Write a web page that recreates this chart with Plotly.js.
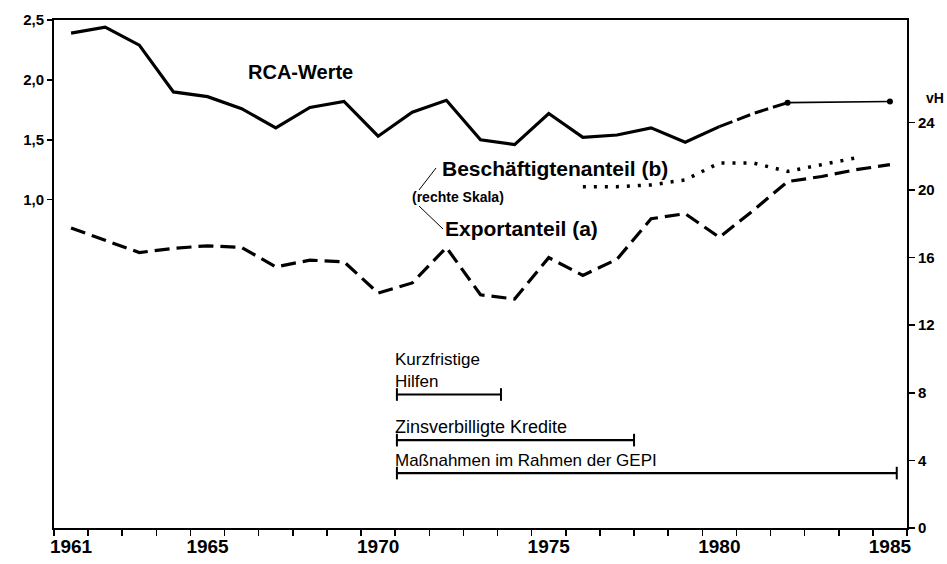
<!DOCTYPE html>
<html>
<head>
<meta charset="utf-8">
<script src="https://cdn.plot.ly/plotly-3.0.1.min.js"></script>
<style>html,body{margin:0;padding:0;background:#fff;}#chart{width:947px;height:564px;}</style>
</head>
<body>
<div id="chart"></div>
<script>
// ---- data ----
const rcaYears = [1961,1962,1963,1964,1965,1966,1967,1968,1969,1970,1971,1972,1973,1974,1975,1976,1977,1978,1979,1980,1981,1982];
const rcaValues = [2.39,2.44,2.29,1.90,1.86,1.76,1.60,1.77,1.82,1.53,1.73,1.83,1.50,1.46,1.72,1.52,1.54,1.60,1.48,1.61,1.72,1.81];
const rcaTrendYears = [1982,1985];
const rcaTrendValues = [1.81,1.82];
const exportYears = [1961,1962,1963,1964,1965,1966,1967,1968,1969,1970,1971,1972,1973,1974,1975,1976,1977,1978,1979,1980,1981,1982,1983,1984,1985];
const exportShare = [17.75,17.0,16.3,16.55,16.7,16.6,15.45,15.85,15.75,13.9,14.5,16.6,13.8,13.55,16.0,14.95,15.9,18.3,18.6,17.2,18.8,20.5,20.8,21.2,21.5];
const emplYears = [1976,1977,1978,1979,1980,1981,1982,1983,1984];
const emplShare = [20.2,20.2,20.3,20.6,21.6,21.6,21.1,21.5,21.9];
const measureLabels = ["Kurzfristige<br>Hilfen","Zinsverbilligte Kredite","Maßnahmen im Rahmen der GEPI"];
const measureStart = [1970.55,1970.55,1970.55];
const measureEnd = [1973.6,1977.5,1985.2];
const measureLevel = [7.9,5.2,3.25];
const xTickYears = [1961,1965,1970,1975,1980,1985];
const leftTicks = [1.0,1.5,2.0,2.5];
const leftTickText = ["1,0","1,5","2,0","2,5"];
const rightTicks = [0,4,8,12,16,20,24];

const FONT = "Liberation Sans, Arial, sans-serif";
const traces = [];
// RCA solid 1961-1980
const iSplit = rcaYears.indexOf(1980);
traces.push({x: rcaYears.slice(0,iSplit+1), y: rcaValues.slice(0,iSplit+1), mode:'lines', line:{color:'#000', width:3.2}, yaxis:'y', hoverinfo:'skip'});
traces.push({x: rcaYears.slice(iSplit), y: rcaValues.slice(iSplit), mode:'lines', line:{color:'#000', width:3, dash:'14px,5px'}, yaxis:'y', hoverinfo:'skip'});
traces.push({x: rcaTrendYears, y: rcaTrendValues, mode:'lines+markers', line:{color:'#000', width:1.6}, marker:{color:'#000', size:6}, yaxis:'y', hoverinfo:'skip'});
// Exportanteil
traces.push({x: exportYears, y: exportShare, mode:'lines', line:{color:'#000', width:3.2, dash:'15px,7px'}, yaxis:'y2', hoverinfo:'skip'});
// Beschäftigtenanteil
traces.push({x: emplYears, y: emplShare, mode:'lines', line:{color:'#000', width:3.5, dash:'3px,8px'}, yaxis:'y2', hoverinfo:'skip'});
// measures
for (let i=0;i<measureLabels.length;i++){
  traces.push({x:[measureStart[i], measureEnd[i]], y:[measureLevel[i], measureLevel[i]], mode:'lines+markers',
    line:{color:'#000', width:2.2}, marker:{symbol:'line-ns-open', size:9, color:'#000', line:{width:2, color:'#000'}}, yaxis:'y2', hoverinfo:'skip'});
}

const annotations = [
  {text:'<b>RCA-Werte</b>', x:(246-54)/853, y:(528-72)/508, xanchor:'left', font:{size:20}},
  {text:'<b>Beschäftigtenanteil (b)</b>', x:(440-54)/853, y:(528-168)/508, xanchor:'left', font:{size:21}},
  {text:'<b>(rechte Skala)</b>', x:(410-54)/853, y:(528-197)/508, xanchor:'left', font:{size:14}},
  {text:'<b>Exportanteil (a)</b>', x:(443-54)/853, y:(528-228)/508, xanchor:'left', font:{size:21}},
  {text:'<b>vH</b>', x:(924-54)/853, y:(528-98)/508, xanchor:'left', font:{size:14}},
];
const measureFont = [17,18,17];
for (let i=0;i<measureLabels.length;i++){
  annotations.push({text:measureLabels[i], xref:'x', yref:'y2', x:measureStart[i], y:measureLevel[i], xanchor:'left', yanchor:'bottom', yshift:1, xshift:-4, align:'left', font:{size:measureFont[i]}});
}
annotations.forEach(a=>{ if(!a.xref){a.xref='paper'; a.yref='paper'; if(!a.yanchor) a.yanchor='middle';} a.showarrow=false; a.font=Object.assign({family:FONT, color:'#000'}, a.font);});

const shapes = [
  {type:'line', xref:'paper', yref:'paper', x0:(419-54)/853, y0:(528-190)/508, x1:(436-54)/853, y1:(528-168)/508, line:{color:'#000', width:1}},
  {type:'line', xref:'paper', yref:'paper', x0:(419-54)/853, y0:(528-206)/508, x1:(443-54)/853, y1:(528-229)/508, line:{color:'#000', width:1}},
];

const layout = {
  width:947, height:564,
  margin:{l:54, r:40, t:20, b:36},
  paper_bgcolor:'#fff', plot_bgcolor:'#fff',
  showlegend:false,
  font:{family:FONT, color:'#000'},
  xaxis:{range:[1960.5,1985.5], tickmode:'array', tickvals:xTickYears, ticktext:xTickYears.map(String),
    ticks:'', showgrid:false, zeroline:false, showline:true, linecolor:'#000', linewidth:2, mirror:true,
    tickfont:{size:19, family:FONT, weight:'bold'},
    minor:{tickmode:'array', tickvals:Array.from({length:26},(_, k)=>1960.5+k), ticks:'outside', ticklen:6, tickwidth:1.5, tickcolor:'#000', showgrid:false}},
  yaxis:{range:[-1.74,2.5], tickmode:'array', tickvals:leftTicks, ticktext:leftTickText, ticks:'outside', ticklen:5, tickwidth:1.5, tickcolor:'#000',
    showgrid:false, zeroline:false, showline:true, linecolor:'#000', linewidth:2, tickfont:{size:15, family:FONT, weight:'bold'}},
  yaxis2:{range:[0,30.06], overlaying:'y', side:'right', tickmode:'array', tickvals:rightTicks, ticktext:rightTicks.map(String), ticks:'outside', ticklen:6, tickwidth:1.5, tickcolor:'#000',
    showgrid:false, zeroline:false, showline:true, linecolor:'#000', linewidth:2, tickfont:{size:15, family:FONT, weight:'bold'}},
  annotations: annotations,
  shapes: shapes
};
Plotly.newPlot('chart', traces, layout, {displayModeBar:false, staticPlot:true});
</script>
</body>
</html>
